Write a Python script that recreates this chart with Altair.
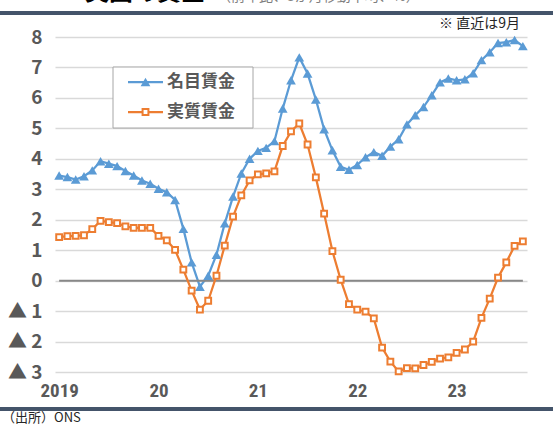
import altair as alt
import pandas as pd

# ---- data ----
year_labels = ["2019", "20", "21", "22", "23"]
nominal = [3.45, 3.40, 3.32, 3.43, 3.62, 3.92, 3.84, 3.76, 3.60, 3.45, 3.29, 3.18,
           3.02, 2.90, 2.65, 1.70, 0.60, -0.20, 0.16, 0.85, 1.88, 2.76, 3.52, 4.00,
           4.26, 4.36, 4.58, 5.65, 6.58, 7.33, 6.80, 5.95, 4.97, 4.28, 3.74, 3.64,
           3.80, 4.05, 4.22, 4.10, 4.40, 4.64, 5.13, 5.43, 5.70, 6.09, 6.51, 6.64,
           6.58, 6.61, 6.81, 7.24, 7.50, 7.80, 7.83, 7.90, 7.70]
real = [1.43, 1.46, 1.47, 1.49, 1.69, 1.96, 1.92, 1.89, 1.78, 1.73, 1.73, 1.73,
        1.47, 1.32, 1.01, 0.36, -0.33, -0.95, -0.66, 0.16, 1.15, 2.10, 2.80, 3.29,
        3.49, 3.52, 3.59, 4.42, 4.90, 5.16, 4.47, 3.39, 2.20, 0.97, 0.03, -0.77,
        -0.95, -1.02, -1.24, -2.20, -2.66, -2.98, -2.87, -2.88, -2.77, -2.67, -2.56, -2.52,
        -2.37, -2.26, -2.00, -1.22, -0.59, 0.10, 0.60, 1.14, 1.29]
y_ticks = list(range(-3, 9))
series_names = ["名目賃金", "実質賃金"]

df = pd.DataFrame({"i": list(range(len(nominal))), "nominal": nominal, "real": real})
n = len(nominal)

W, H = 472, 335
BLUE = "#5b9bd5"
ORANGE = "#ed7d31"
LBL = "#595959"
NUM_FONT = "Liberation Sans Narrow, Roboto Condensed, DejaVu Sans Condensed, Noto Sans CJK JP, sans-serif"
JP_FONT = "Noto Sans CJK JP"

xscale = alt.Scale(domain=[-0.5, n - 0.5], nice=False, zero=False)
yscale = alt.Scale(domain=[min(y_ticks), max(y_ticks)], nice=False, zero=False)

label_arr = "[" + ",".join("'%s'" % s for s in year_labels) + "]"
x_axis = alt.Axis(values=[12 * k for k in range(len(year_labels))],
                  labelExpr=label_arr + "[datum.value/12]",
                  grid=False, domain=False, ticks=False, labelPadding=9,
                  labelFont=NUM_FONT, labelFontSize=19, labelFontWeight="bold",
                  labelColor=LBL, title=None)
y_axis = alt.Axis(values=y_ticks,
                  labelExpr="datum.value < 0 ? '▲ ' + (-datum.value) : '' + datum.value",
                  grid=True, gridColor="#d9d9d9", gridWidth=1.3,
                  domain=False, ticks=False, labelPadding=13,
                  labelFont="Liberation Sans Narrow, Noto Sans CJK JP, sans-serif",
                  labelFontSize=19, labelFontWeight="bold",
                  labelColor=LBL, title=None)

base = alt.Chart(df)

blue_line = base.mark_line(color=BLUE, strokeWidth=2.25).encode(
    x=alt.X("i:Q", scale=xscale, axis=x_axis),
    y=alt.Y("nominal:Q", scale=yscale, axis=y_axis))

zero_df = pd.DataFrame({"i": [0], "i2": [n - 1], "v": [0]})
zero_rule = alt.Chart(zero_df).mark_rule(color="#888888", strokeWidth=2).encode(
    x=alt.X("i:Q", scale=xscale, axis=x_axis), x2="i2:Q",
    y=alt.Y("v:Q", scale=yscale, axis=y_axis))

blue_pts = base.mark_point(shape="triangle-up", filled=True, size=95, color=BLUE, opacity=1).encode(
    x=alt.X("i:Q", scale=xscale, axis=x_axis),
    y=alt.Y("nominal:Q", scale=yscale, axis=y_axis))
orange_line = base.mark_line(color=ORANGE, strokeWidth=2.25).encode(
    x=alt.X("i:Q", scale=xscale, axis=x_axis),
    y=alt.Y("real:Q", scale=yscale, axis=y_axis))
orange_pts = base.mark_point(shape="square", filled=True, size=34, fill="white",
                             stroke=ORANGE, strokeWidth=2, opacity=1).encode(
    x=alt.X("i:Q", scale=xscale, axis=x_axis),
    y=alt.Y("real:Q", scale=yscale, axis=y_axis))

one = alt.Chart(pd.DataFrame({"a": [0]}))

# legend box
leg_box = one.mark_rect(fill="white", stroke="#a6a6a6", strokeWidth=1).encode(
    x=alt.value(58), x2=alt.value(198), y=alt.value(30), y2=alt.value(91))
leg_l1 = one.mark_rule(color=BLUE, strokeWidth=2.25).encode(
    x=alt.value(73), x2=alt.value(108), y=alt.value(45))
leg_p1 = one.mark_point(shape="triangle-up", filled=True, size=95, color=BLUE, opacity=1).encode(
    x=alt.value(90.5), y=alt.value(45))
leg_t1 = one.mark_text(align="left", baseline="middle", font=JP_FONT, fontSize=17,
                       fontWeight="bold", color=LBL).encode(
    x=alt.value(112), y=alt.value(45), text=alt.value(series_names[0]))
leg_l2 = one.mark_rule(color=ORANGE, strokeWidth=2.25).encode(
    x=alt.value(73), x2=alt.value(108), y=alt.value(75))
leg_p2 = one.mark_point(shape="square", filled=True, size=34, fill="white",
                        stroke=ORANGE, strokeWidth=2, opacity=1).encode(
    x=alt.value(90.5), y=alt.value(75))
leg_t2 = one.mark_text(align="left", baseline="middle", font=JP_FONT, fontSize=17,
                       fontWeight="bold", color=LBL).encode(
    x=alt.value(112), y=alt.value(75), text=alt.value(series_names[1]))

# decorations
top_band = one.mark_rect(color="#44546a").encode(
    x=alt.value(-55), x2=alt.value(498), y=alt.value(-26), y2=alt.value(-22))
bot_band = one.mark_rect(color="#44546a").encode(
    x=alt.value(-55), x2=alt.value(498), y=alt.value(370), y2=alt.value(374))
title_main = one.mark_text(align="left", baseline="bottom", font=JP_FONT, fontSize=24,
                           fontWeight="bold", color="#000000").encode(
    x=alt.value(30), y=alt.value(-32), text=alt.value("英国の賃金"))
title_sub = one.mark_text(align="left", baseline="bottom", font=JP_FONT, fontSize=14,
                          color="#7f7f7f").encode(
    x=alt.value(162), y=alt.value(-33), text=alt.value("（前年比、3か月移動平均、%）"))
note = one.mark_text(align="right", baseline="alphabetic", font=JP_FONT, fontSize=14,
                     color="#262626").encode(
    x=alt.value(465), y=alt.value(-9), text=alt.value("※ 直近は9月"))
source = one.mark_text(align="left", baseline="middle", font=JP_FONT, fontSize=13,
                       color="#262626").encode(
    x=alt.value(-53), y=alt.value(381), text=alt.value("（出所）ONS"))

chart = alt.layer(
    blue_line, zero_rule, orange_line, blue_pts, orange_pts,
    leg_box, leg_l1, leg_p1, leg_t1, leg_l2, leg_p2, leg_t2,
    top_band, bot_band, title_main, title_sub, note, source
).properties(
    width=W, height=H,
    autosize=alt.AutoSizeParams(type="none"),
    padding={"left": 55, "top": 37, "right": 26, "bottom": 54},
    background="white"
).configure_view(strokeWidth=0)

chart.save("out.html", embed_options={"renderer": "svg", "actions": False})
